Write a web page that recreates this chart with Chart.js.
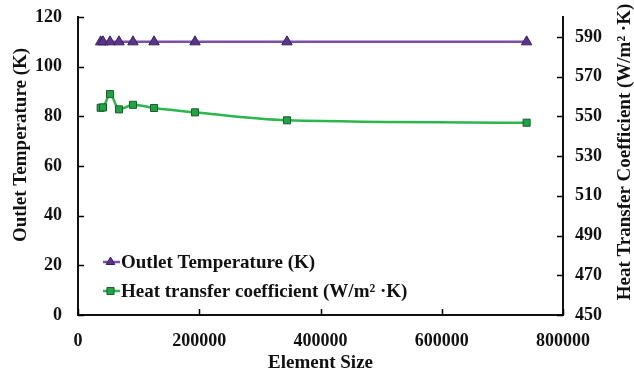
<!DOCTYPE html>
<html>
<head>
<meta charset="utf-8">
<style>
html,body{margin:0;padding:0;background:#fff;}
#wrap{position:relative;width:634px;height:370px;}
</style>
<script src="https://cdn.jsdelivr.net/npm/chart.js@4.4.1/dist/chart.umd.min.js"></script>
</head>
<body>
<div id="wrap"><canvas id="c" width="634" height="370"></canvas></div>
<script>
const elementSizes = [37400, 41200, 52800, 67600, 90700, 125400, 193000, 344700, 740000];
const outletTemperature = [110, 110, 110, 110, 110, 110, 110, 110, 110];
const heatTransferCoeff = [554.3, 554.5, 561.2, 553.5, 555.8, 554.2, 552.0, 548.0, 546.8];
const xTicks = [0, 200000, 400000, 600000, 800000];
const leftTicks = [0, 20, 40, 60, 80, 100, 120];
const rightTicks = [450, 470, 490, 510, 530, 550, 570, 590];
const tempLabel = 'Outlet Temperature (K)';
const htcLabel = 'Heat transfer coefficient (W/m² ·K)';
const leftTitle = 'Outlet Temperature (K)';
const rightTitle = 'Heat Transfer Coefficient (W/m² ·K)';

const FONT = '"Liberation Serif","Times New Roman",serif';
const PURPLE_LINE = '#7d4fa6', PURPLE_FILL = '#5a3588', PURPLE_EDGE = '#3b1f62';
const GREEN_LINE = '#2db64c', GREEN_FILL = '#22a247', GREEN_EDGE = '#1a5a2a';

const ptsT = elementSizes.map((x, i) => ({x, y: outletTemperature[i]}));
const ptsH = elementSizes.map((x, i) => ({x, y: heatTransferCoeff[i]}));

const innerTicks = {
  id: 'innerTicks',
  afterDatasetsDraw(chart) {
    const ctx = chart.ctx, a = chart.chartArea;
    ctx.save();
    ctx.strokeStyle = '#000'; ctx.lineWidth = 1.5;
    const L = 6;
    const sx = chart.scales.x, sy = chart.scales.y, sy1 = chart.scales.y1;
    xTicks.forEach(v => { const p = Math.round(sx.getPixelForValue(v)) + 0.5; ctx.beginPath(); ctx.moveTo(p, a.bottom); ctx.lineTo(p, a.bottom - L); ctx.stroke(); });
    leftTicks.forEach(v => { const p = Math.round(sy.getPixelForValue(v)) + 0.5; ctx.beginPath(); ctx.moveTo(a.left, p); ctx.lineTo(a.left + L, p); ctx.stroke(); });
    rightTicks.forEach(v => { const p = Math.round(sy1.getPixelForValue(v)) + 0.5; ctx.beginPath(); ctx.moveTo(a.right, p); ctx.lineTo(a.right - L, p); ctx.stroke(); });
    ctx.restore();
  }
};

const customLegend = {
  id: 'customLegend',
  afterDraw(chart) {
    const ctx = chart.ctx;
    ctx.save();
    const items = [
      {ds: chart.data.datasets[0], y: 262},
      {ds: chart.data.datasets[1], y: 291}
    ];
    items.forEach(it => {
      const x0 = 103, x1 = 120, xm = 110.5;
      ctx.strokeStyle = it.ds.borderColor; ctx.lineWidth = 2.5;
      ctx.beginPath(); ctx.moveTo(x0, it.y); ctx.lineTo(x1, it.y); ctx.stroke();
      ctx.fillStyle = it.ds.pointBackgroundColor; ctx.strokeStyle = it.ds.pointBorderColor; ctx.lineWidth = 1;
      Chart.helpers.drawPoint(ctx, {pointStyle: it.ds.pointStyle, radius: 5, borderWidth: 1}, xm, it.y);
      ctx.fillStyle = '#111';
      ctx.font = 'bold 19px ' + FONT;
      ctx.textBaseline = 'middle'; ctx.textAlign = 'left';
      ctx.fillText(it.ds.label, 121, it.y + 1);
    });
    ctx.restore();
    const drawV = (text, x, y, size) => {
      ctx.save();
      ctx.translate(x, y);
      ctx.rotate(-Math.PI / 2);
      ctx.textAlign = 'center'; ctx.textBaseline = 'middle';
      ctx.font = 'bold ' + size + 'px ' + FONT;
      ctx.fillStyle = '#111';
      ctx.fillText(text, 0, 0);
      ctx.restore();
    };
    drawV(leftTitle, 21, 145, 19);
    drawV(rightTitle, 625, 152, 19);
  }
};

const noPad = s => { s.paddingTop = 0; s.paddingBottom = 0; };

new Chart(document.getElementById('c'), {
  type: 'scatter',
  data: {
    datasets: [
      {
        label: tempLabel, data: ptsT, yAxisID: 'y', showLine: true,
        borderColor: PURPLE_LINE, borderWidth: 2.5, tension: 0,
        pointStyle: 'triangle', pointRadius: 6, pointBackgroundColor: PURPLE_FILL,
        pointBorderColor: PURPLE_EDGE, pointBorderWidth: 1
      },
      {
        label: htcLabel, data: ptsH, yAxisID: 'y1', showLine: true,
        borderColor: GREEN_LINE, borderWidth: 2.5, cubicInterpolationMode: 'monotone',
        pointStyle: 'rect', pointRadius: 5, pointBackgroundColor: GREEN_FILL,
        pointBorderColor: GREEN_EDGE, pointBorderWidth: 1
      }
    ]
  },
  options: {
    responsive: false, animation: false,
    layout: {padding: {top: 17, left: 0, right: 0, bottom: 0}},
    plugins: {legend: {display: false}, tooltip: {enabled: false}},
    scales: {
      x: {
        type: 'linear', position: 'bottom', min: 0, max: 800000,
        afterBuildTicks: s => { s.ticks = xTicks.map(v => ({value: v})); },
        afterFit: s => { s.height = 55; s.paddingLeft = 0; s.paddingRight = 0; },
        grid: {display: true, drawOnChartArea: false, drawTicks: false},
        border: {display: true, color: '#111', width: 2},
        ticks: {font: {family: FONT, size: 18, weight: 'bold'}, color: '#111', padding: 16, maxRotation: 0, callback: v => String(v)},
        title: {display: true, text: 'Element Size', font: {family: FONT, size: 19, weight: 'bold'}, color: '#111', padding: {top: 8, bottom: -4}}
      },
      y: {
        type: 'linear', position: 'left', min: 0, max: 120,
        afterBuildTicks: s => { s.ticks = leftTicks.map(v => ({value: v})); },
        afterFit: s => { s.width = 78; noPad(s); },
        grid: {display: true, drawOnChartArea: false, drawTicks: false},
        border: {display: true, color: '#111', width: 2},
        ticks: {font: {family: FONT, size: 18, weight: 'bold'}, color: '#111', padding: 16},
        title: {display: false}
      },
      y1: {
        type: 'linear', position: 'right', min: 450, max: 600,
        afterBuildTicks: s => { s.ticks = rightTicks.map(v => ({value: v})); },
        afterFit: s => { s.width = 71; noPad(s); },
        grid: {display: true, drawOnChartArea: false, drawTicks: false},
        border: {display: true, color: '#111', width: 2},
        ticks: {font: {family: FONT, size: 18, weight: 'bold'}, color: '#111', padding: 12},
        title: {display: false}
      }
    }
  },
  plugins: [innerTicks, customLegend]
});
</script>
</body>
</html>
